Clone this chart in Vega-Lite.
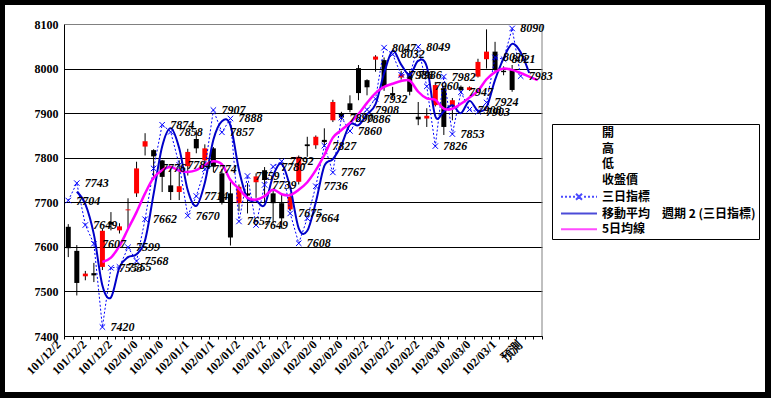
{
  "$schema": "https://vega.github.io/schema/vega-lite/v6.json",
  "width": 760,
  "height": 387,
  "autosize": {"type": "none"},
  "padding": {"left": 5, "top": 5, "right": 6, "bottom": 6},
  "background": "black",
  "config": {"view": {"fill": "white", "stroke": null}},
  "datasets": {
    "k": [
      {"d": "101/12/20", "o": 7645, "h": 7651, "l": 7577, "c": 7597, "s": 7704, "m2": null, "m5": null},
      {"d": "101/12/21", "o": 7591, "h": 7604, "l": 7491, "c": 7519, "s": 7743, "m2": 7723.5, "m5": null},
      {"d": "101/12/24", "o": 7534, "h": 7546, "l": 7525, "c": 7540, "s": 7649, "m2": 7696, "m5": null},
      {"d": "101/12/25", "o": 7541, "h": 7564, "l": 7521, "c": 7536, "s": 7607, "m2": 7628, "m5": null},
      {"d": "101/12/26", "o": 7555, "h": 7640, "l": 7548, "c": 7636, "s": 7420, "m2": 7513.5, "m5": 7566},
      {"d": "101/12/27", "o": 7656, "h": 7678, "l": 7637, "c": 7650, "s": 7553, "m2": 7486.5, "m5": 7576},
      {"d": "101/12/28", "o": 7637, "h": 7653, "l": 7630, "c": 7646, "s": 7555, "m2": 7554, "m5": 7602},
      {"d": "101/12/31", "o": 7682, "h": 7709, "l": 7640, "c": 7684, "s": 7599, "m2": 7577, "m5": 7640},
      {"d": "102/01/02", "o": 7720, "h": 7791, "l": 7712, "c": 7776, "s": 7568, "m2": 7583.5, "m5": 7678},
      {"d": "102/01/03", "o": 7825, "h": 7855, "l": 7805, "c": 7837, "s": 7662, "m2": 7615, "m5": 7720},
      {"d": "102/01/04", "o": 7817, "h": 7819, "l": 7750, "c": 7803, "s": 7776, "m2": 7719, "m5": 7755},
      {"d": "102/01/07", "o": 7794, "h": 7795, "l": 7723, "c": 7757, "s": 7874, "m2": 7825, "m5": 7772},
      {"d": "102/01/08", "o": 7738, "h": 7776, "l": 7705, "c": 7723, "s": 7858, "m2": 7866, "m5": 7779},
      {"d": "102/01/09", "o": 7723, "h": 7794, "l": 7705, "c": 7736, "s": 7784, "m2": 7821, "m5": 7771},
      {"d": "102/01/10", "o": 7781, "h": 7820, "l": 7760, "c": 7813, "s": 7670, "m2": 7727, "m5": 7768},
      {"d": "102/01/11", "o": 7842, "h": 7862, "l": 7810, "c": 7821, "s": 7714, "m2": 7692, "m5": 7772},
      {"d": "102/01/14", "o": 7794, "h": 7830, "l": 7780, "c": 7821, "s": 7774, "m2": 7744, "m5": 7784},
      {"d": "102/01/15", "o": 7821, "h": 7824, "l": 7768, "c": 7780, "s": 7907, "m2": 7840.5, "m5": 7792},
      {"d": "102/01/16", "o": 7765, "h": 7775, "l": 7695, "c": 7700, "s": 7857, "m2": 7882, "m5": 7785},
      {"d": "102/01/17", "o": 7720, "h": 7745, "l": 7603, "c": 7621, "s": 7888, "m2": 7872.5, "m5": 7750},
      {"d": "102/01/18", "o": 7698, "h": 7740, "l": 7680, "c": 7735, "s": 7657, "m2": 7772.5, "m5": 7730},
      {"d": "102/01/21", "o": 7720, "h": 7743, "l": 7675, "c": 7715, "s": 7759, "m2": 7708, "m5": 7710},
      {"d": "102/01/22", "o": 7745, "h": 7765, "l": 7710, "c": 7758, "s": 7649, "m2": 7704, "m5": 7706},
      {"d": "102/01/23", "o": 7772, "h": 7779, "l": 7700, "c": 7750, "s": 7739, "m2": 7694, "m5": 7714},
      {"d": "102/01/24", "o": 7720, "h": 7727, "l": 7652, "c": 7698, "s": 7780, "m2": 7759.5, "m5": 7728},
      {"d": "102/01/25", "o": 7698, "h": 7720, "l": 7641, "c": 7664, "s": 7792, "m2": 7786, "m5": 7718},
      {"d": "102/01/28", "o": 7684, "h": 7720, "l": 7680, "c": 7712, "s": 7675, "m2": 7733.5, "m5": 7716},
      {"d": "102/01/29", "o": 7746, "h": 7805, "l": 7740, "c": 7802, "s": 7608, "m2": 7641.5, "m5": 7728},
      {"d": "102/01/30", "o": 7830, "h": 7847, "l": 7802, "c": 7826, "s": 7664, "m2": 7636, "m5": 7745},
      {"d": "102/01/31", "o": 7828, "h": 7850, "l": 7820, "c": 7847, "s": 7736, "m2": 7700, "m5": 7772},
      {"d": "102/02/01", "o": 7840, "h": 7866, "l": 7825, "c": 7835, "s": 7827, "m2": 7781.5, "m5": 7806},
      {"d": "102/02/04", "o": 7884, "h": 7930, "l": 7880, "c": 7925, "s": 7767, "m2": 7797, "m5": 7845},
      {"d": "102/02/05", "o": 7898, "h": 7903, "l": 7885, "c": 7890, "s": 7890, "m2": 7828.5, "m5": 7862},
      {"d": "102/02/06", "o": 7922, "h": 7940, "l": 7902, "c": 7907, "s": 7860, "m2": 7875, "m5": 7878},
      {"d": "102/02/18", "o": 8001, "h": 8008, "l": 7929, "c": 7945, "s": 7886, "m2": 7873, "m5": 7898},
      {"d": "102/02/19", "o": 7974, "h": 7976, "l": 7940, "c": 7958, "s": 7908, "m2": 7897, "m5": 7923},
      {"d": "102/02/20", "o": 8020, "h": 8030, "l": 7993, "c": 8027, "s": 7932, "m2": 7920, "m5": 7945},
      {"d": "102/02/21", "o": 8019, "h": 8025, "l": 7950, "c": 7959, "s": 8047, "m2": 7989.5, "m5": 7959},
      {"d": "102/02/22", "o": 7945, "h": 7959, "l": 7933, "c": 7940, "s": 8032, "m2": 8039.5, "m5": 7966},
      {"d": "102/02/23", "o": 7980, "h": 7995, "l": 7975, "c": 7987, "s": 7986, "m2": 8009, "m5": 7972},
      {"d": "102/02/25", "o": 7990, "h": 7995, "l": 7940, "c": 7948, "s": 7986, "m2": 7986, "m5": 7973},
      {"d": "102/02/26", "o": 7892, "h": 7925, "l": 7873, "c": 7886, "s": 8049, "m2": 8017.5, "m5": 7948},
      {"d": "102/02/27", "o": 7888, "h": 7911, "l": 7869, "c": 7894, "s": 7960, "m2": 8004.5, "m5": 7933},
      {"d": "102/03/01", "o": 7918, "h": 7970, "l": 7915, "c": 7963, "s": 7826, "m2": 7893, "m5": 7930},
      {"d": "102/03/04", "o": 7956, "h": 7959, "l": 7851, "c": 7869, "s": 7982, "m2": 7904, "m5": 7910},
      {"d": "102/03/05", "o": 7916, "h": 7934, "l": 7884, "c": 7929, "s": 7853, "m2": 7917.5, "m5": 7910},
      {"d": "102/03/06", "o": 7959, "h": 7962, "l": 7945, "c": 7952, "s": 7947, "m2": 7900, "m5": 7921},
      {"d": "102/03/07", "o": 7952, "h": 7960, "l": 7950, "c": 7958, "s": 7908, "m2": 7927.5, "m5": 7935},
      {"d": "102/03/08", "o": 7982, "h": 8022, "l": 7980, "c": 8015, "s": 7903, "m2": 7905.5, "m5": 7950},
      {"d": "102/03/11", "o": 8021, "h": 8088, "l": 8000, "c": 8038, "s": 7924, "m2": 7913.5, "m5": 7976},
      {"d": "102/03/12", "o": 8038, "h": 8060, "l": 7993, "c": 7997, "s": 8025, "m2": 7974.5, "m5": 7992},
      {"d": "102/03/13", "o": 7995, "h": 8005, "l": 7985, "c": 7992, "s": 8021, "m2": 8023, "m5": 8000},
      {"d": "102/03/14", "o": 7997, "h": 8008, "l": 7948, "c": 7952, "s": 8090, "m2": 8055.5, "m5": 7997},
      {"d": "102/03/15", "o": null, "h": null, "l": null, "c": null, "s": 7983, "m2": 8036.5, "m5": 7990},
      {"d": "預測", "o": null, "h": null, "l": null, "c": null, "s": null, "m2": 7990, "m5": 7982},
      {"d": "-", "o": null, "h": null, "l": null, "c": null, "s": null, "m2": null, "m5": 7974}
    ]
  },
  "layer": [
    {
      "data": {"name": "k"},
      "mark": {"type": "rule", "color": "black", "strokeWidth": 1},
      "encoding": {
        "x": {
          "field": "d", "type": "ordinal", "sort": null,
          "scale": {"paddingInner": 0, "paddingOuter": 0, "range": [59, 537]},
          "axis": {
            "title": null, "grid": false, "offset": -56, "labelAngle": -45, "labelAlign": "right", "labelBaseline": "middle",
            "labelFont": "Liberation Serif", "labelFontSize": 12, "labelFontWeight": "bold", "labelColor": "black",
            "labelOffset": -10, "labelPadding": 3, "tickBand": "extent", "tickSize": 3, "tickColor": "black",
            "domainColor": "black", "labelOverlap": false, "labelBound": false,
            "labelExpr": "indexof(domain('x'), datum.value) % 3 === 0 ? slice(datum.value, 0, 8) : ''"
          }
        },
        "y": {
          "field": "h", "type": "quantitative",
          "scale": {"domain": [7400, 8100], "nice": false, "zero": false, "range": [331, 19]},
          "axis": {
            "title": null, "offset": -59, "values": [7400, 7500, 7600, 7700, 7800, 7900, 8000, 8100], "format": "d", "grid": true,
            "gridColor": {"condition": {"test": "datum.value === 8100", "value": "#808080"}, "value": "black"},
            "gridWidth": 1, "ticks": false, "labelPadding": 6,
            "labelFont": "Liberation Serif", "labelFontSize": 12, "labelFontWeight": "bold", "labelColor": "black",
            "domainColor": "black"
          }
        },
        "y2": {"field": "l"}
      }
    },
    {
      "data": {"name": "k"},
      "mark": {"type": "rule", "color": "#808080", "strokeWidth": 1},
      "encoding": {
        "x": {"field": "d", "type": "ordinal", "sort": null, "bandPosition": 1},
        "y": {"datum": 7400, "type": "quantitative"},
        "y2": {"datum": 8100},
        "strokeOpacity": {"condition": {"test": "datum.d === '-'", "value": 1}, "value": 0}
      }
    },
    {
      "data": {"name": "k"},
      "mark": {"type": "bar", "size": 5},
      "encoding": {
        "x": {"field": "d", "type": "ordinal", "sort": null},
        "y": {"field": "o", "type": "quantitative"},
        "y2": {"field": "c"},
        "color": {"condition": {"test": "datum.c >= datum.o", "value": "#ff0000"}, "value": "#000000"}
      }
    },
    {
      "data": {"name": "k"},
      "mark": {"type": "line", "stroke": "#0000ff", "strokeWidth": 1, "strokeDash": [2, 2]},
      "encoding": {
        "x": {"field": "d", "type": "ordinal", "sort": null},
        "y": {"field": "s", "type": "quantitative"}
      }
    },
    {
      "data": {"name": "k"},
      "mark": {"type": "point", "shape": "M-1,-1L1,1M-1,1L1,-1", "size": 30, "filled": false, "stroke": "#0000ff", "strokeWidth": 1, "opacity": 1},
      "encoding": {
        "x": {"field": "d", "type": "ordinal", "sort": null},
        "y": {"field": "s", "type": "quantitative"}
      }
    },
    {
      "data": {"name": "k"},
      "mark": {"type": "line", "stroke": "#0000c8", "strokeWidth": 2, "interpolate": "cardinal"},
      "encoding": {
        "x": {"field": "d", "type": "ordinal", "sort": null},
        "y": {"field": "m2", "type": "quantitative"}
      }
    },
    {
      "data": {"name": "k"},
      "mark": {"type": "line", "stroke": "#ff00ff", "strokeWidth": 2.5, "interpolate": "cardinal"},
      "encoding": {
        "x": {"field": "d", "type": "ordinal", "sort": null},
        "y": {"field": "m5", "type": "quantitative"}
      }
    },
    {
      "data": {"name": "k"},
      "mark": {"type": "text", "align": "left", "baseline": "middle", "dx": 8, "font": "Liberation Serif", "fontSize": 12, "fontWeight": "bold", "fontStyle": "italic", "color": "black"},
      "encoding": {
        "x": {"field": "d", "type": "ordinal", "sort": null},
        "y": {"field": "s", "type": "quantitative"},
        "text": {"field": "s", "type": "nominal"}
      }
    },
    {
      "data": {"values": [
        {"n": "開", "v": null}, {"n": "高", "v": null}, {"n": "低", "v": null}, {"n": "收盤價", "v": null},
        {"n": "三日指標", "v": null}, {"n": "移動平均　週期 2 (三日指標)", "v": null}, {"n": "5日均線", "v": null}
      ]},
      "mark": {"type": "point", "filled": false},
      "encoding": {
        "y": {"field": "v", "type": "quantitative"},
        "shape": {
          "field": "n", "type": "nominal",
          "scale": {
            "domain": ["開", "高", "低", "收盤價", "三日指標", "移動平均　週期 2 (三日指標)", "5日均線"],
            "range": ["M0,0H36", "M0,0H36", "M0,0H36", "M0,0H36",
                      "M0,0H2M4,0H6M8,0H10M12,0H14M15,-3L21,3M15,3L21,-3M23,0H25M27,0H29M31,0H33M35,0H36",
                      "M0,0H36", "M0,0H36"]
          },
          "legend": {
            "orient": "none", "legendX": 547, "legendY": 119, "title": null,
            "fillColor": "white", "strokeColor": "black", "padding": 3,
            "symbolSize": 4, "symbolStrokeWidth": 2, "labelOffset": 35,
            "labelFont": "Noto Sans CJK TC", "labelFontSize": 12, "labelFontWeight": "bold", "labelColor": "black",
            "rowPadding": 3.7, "labelLimit": 300
          }
        },
        "stroke": {
          "field": "n", "type": "nominal",
          "scale": {
            "domain": ["開", "高", "低", "收盤價", "三日指標", "移動平均　週期 2 (三日指標)", "5日均線"],
            "range": ["transparent", "transparent", "transparent", "transparent", "#0000ff", "#0000c8", "#ff00ff"]
          },
          "legend": {
            "orient": "none", "legendX": 547, "legendY": 119, "title": null,
            "fillColor": "white", "strokeColor": "black", "padding": 3,
            "symbolSize": 4, "symbolStrokeWidth": 2, "labelOffset": 35,
            "labelFont": "Noto Sans CJK TC", "labelFontSize": 12, "labelFontWeight": "bold", "labelColor": "black",
            "rowPadding": 3.7, "labelLimit": 300
          }
        }
      }
    }
  ]
}
